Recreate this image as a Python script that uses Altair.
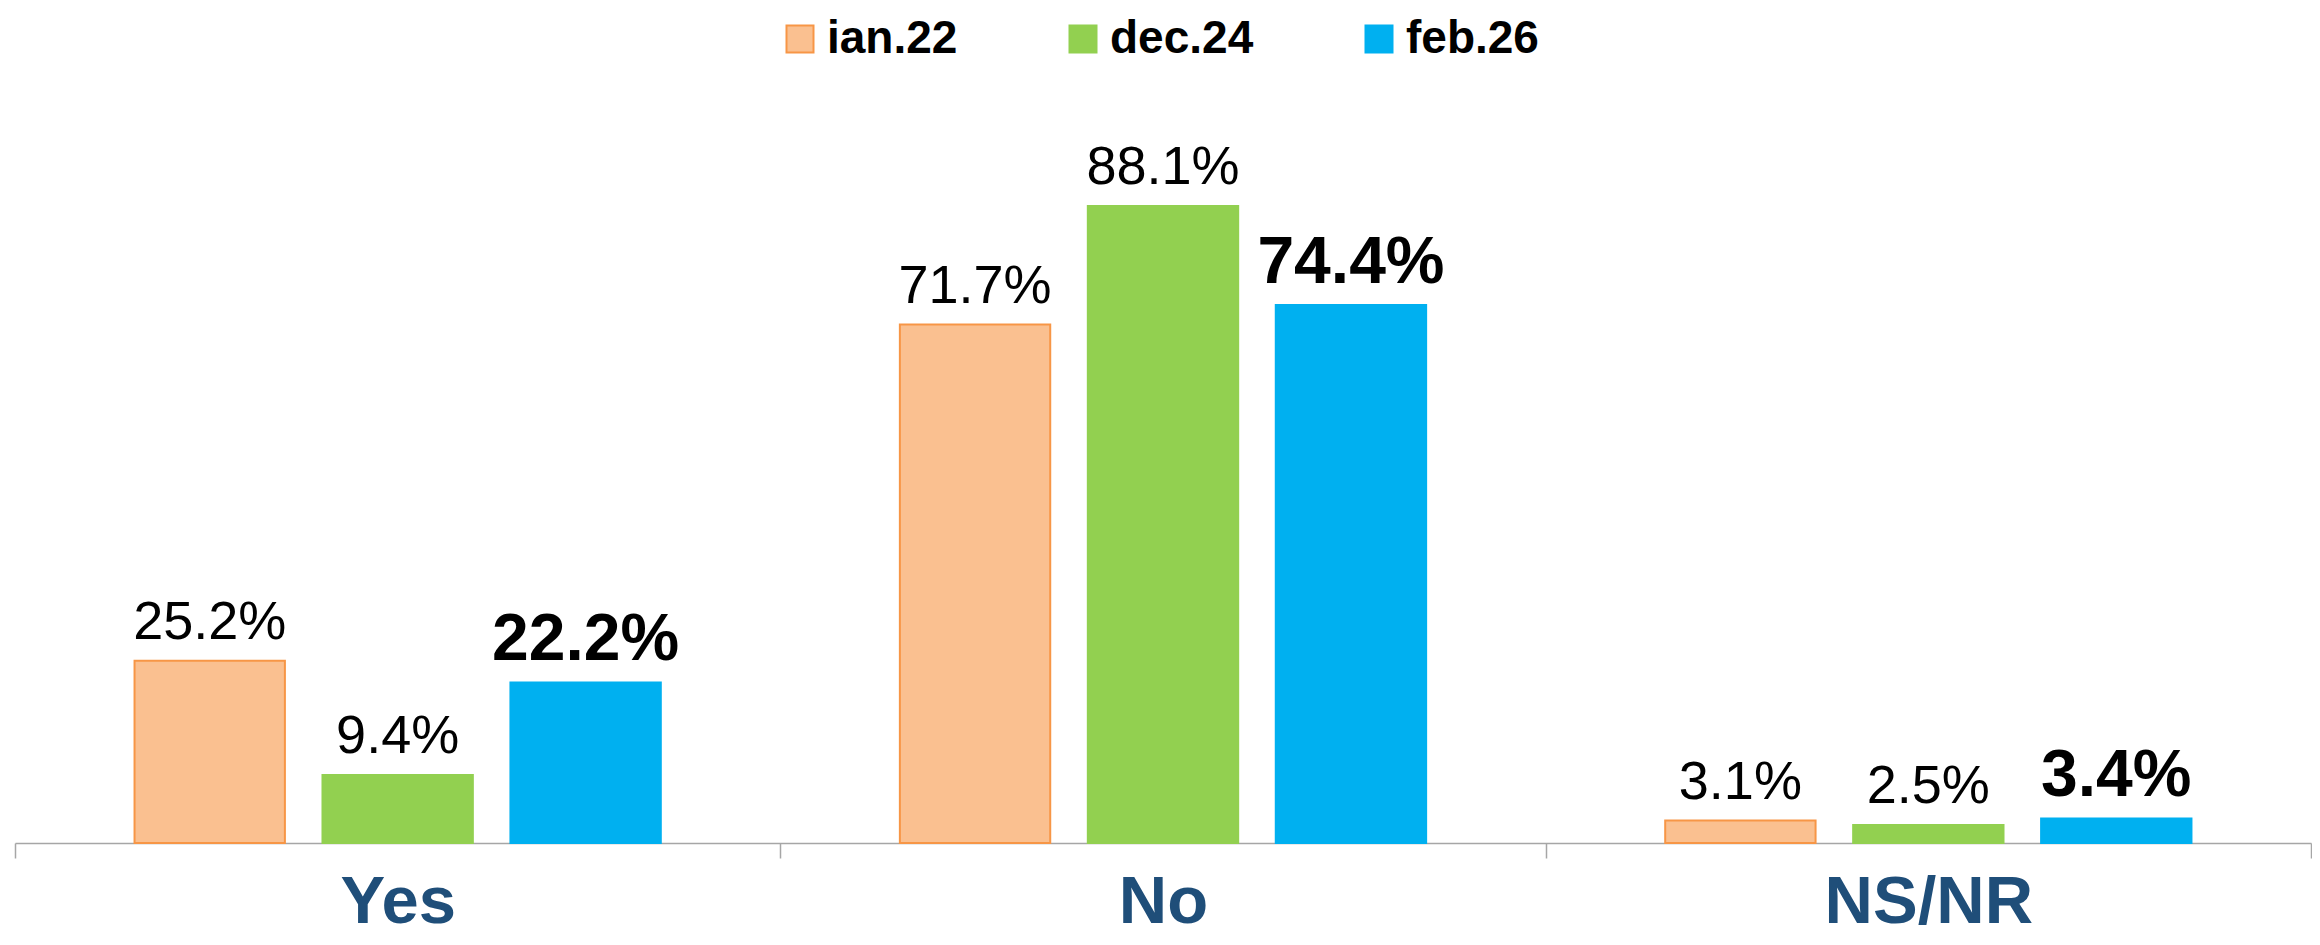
import altair as alt
import pandas as pd

categories = ["Yes", "No", "NS/NR"]
series = ["ian.22", "dec.24", "feb.26"]
ian22 = [25.2, 71.7, 3.1]
dec24 = [9.4, 88.1, 2.5]
feb26 = [22.2, 74.4, 3.4]

fill_colors = ["#FAC090", "#92D050", "#00B0F0"]
stroke_colors = ["#F79646", "#92D050", "#00B0F0"]

rows = []
for s, vals in zip(series, [ian22, dec24, feb26]):
    for c, v in zip(categories, vals):
        rows.append({"cat": c, "series": s, "value": v})
df = pd.DataFrame(rows)

FONT = "Liberation Sans"

legend = alt.Legend(
    title=None,
    orient="none",
    legendX=762,
    legendY=-104,
    direction="horizontal",
    symbolType="square",
    symbolSize=729,
    symbolStrokeWidth=2,
    labelFont=FONT,
    labelFontWeight="bold",
    labelFontSize=46,
    labelColor="#000000",
    labelOffset=4,
    columnPadding=102,
)

base = alt.Chart(df).transform_calculate(
    label="format(datum.value, '.1f') + '%'"
).encode(
    x=alt.X(
        "cat:N",
        sort=categories,
        title=None,
        scale=alt.Scale(paddingInner=0, paddingOuter=0),
        axis=alt.Axis(
            labelAngle=0,
            labelFont=FONT,
            labelFontWeight="bold",
            labelFontSize=67,
            labelColor="#1F4E79",
            labelBaseline="alphabetic",
            labelPadding=64,
            labelLimit=0,
            domainColor="#A6A6A6",
            domainWidth=1.5,
            tickColor="#A6A6A6",
            tickWidth=1.5,
            tickSize=15,
            tickBand="extent",
            grid=False,
        ),
    ),
    xOffset=alt.XOffset(
        "series:N", sort=series,
        scale=alt.Scale(paddingInner=0.2, paddingOuter=0.636),
    ),
    y=alt.Y("value:Q", scale=alt.Scale(domain=[0, 100]), axis=None),
)

bars = base.mark_bar(strokeWidth=2).encode(
    color=alt.Color("series:N", sort=series,
                    scale=alt.Scale(domain=series, range=fill_colors),
                    legend=legend),
    stroke=alt.Stroke("series:N", sort=series,
                      scale=alt.Scale(domain=series, range=stroke_colors),
                      legend=legend),
)

text_reg = base.transform_filter(alt.datum.series != "feb.26").mark_text(
    baseline="alphabetic", dy=-22, font=FONT, fontSize=54, color="#000000"
).encode(text="label:N")

text_bold = base.transform_filter(alt.datum.series == "feb.26").mark_text(
    baseline="alphabetic", dy=-22, font=FONT, fontSize=66, fontWeight="bold",
    color="#000000"
).encode(text="label:N")

chart = alt.layer(bars, text_reg, text_bold).properties(
    width=2296,
    height=723,
    padding={"left": 7, "top": 112, "right": 1, "bottom": 94},
    autosize=alt.AutoSizeParams(type="none"),
    background="white",
).configure_view(stroke=None)

chart.save("out.html", embed_options={"renderer": "svg", "actions": False})
